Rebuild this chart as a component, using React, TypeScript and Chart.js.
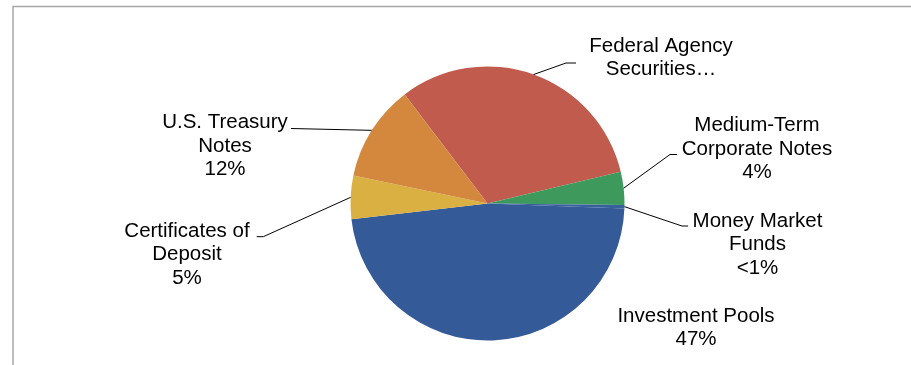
import React, { useEffect, useRef } from "react";
import { Chart, registerables } from "chart.js";

Chart.register(...registerables);

const categories = [
  "Federal Agency Securities",
  "Medium-Term Corporate Notes",
  "Money Market Funds",
  "Investment Pools",
  "Certificates of Deposit",
  "U.S. Treasury Notes",
];
const values = [31.6, 3.9, 0.4, 47.6, 5.1, 11.4];
const labelTexts = [
  ["Federal Agency", "Securities…"],
  ["Medium-Term", "Corporate Notes", "4%"],
  ["Money Market", "Funds", "<1%"],
  ["Investment Pools", "47%"],
  ["Certificates of", "Deposit", "5%"],
  ["U.S. Treasury", "Notes", "12%"],
];
const colors = ["#c05b4e", "#3e9a5c", "#37609e", "#345a98", "#dbb043", "#d4883d"];

// label layout: text centre x, first baseline y, leader elbow and end (null = no leader)
const labelLayout = [
  { x: 661, y: 51.7, elbow: [566, 63], end: [576, 63] },
  { x: 757, y: 131, elbow: [670, 154.5], end: [677, 154.5] },
  { x: 757.5, y: 226.7, elbow: [682, 226], end: [688, 226] },
  { x: 696, y: 321.7, elbow: null, end: null },
  { x: 187, y: 236.7, elbow: [263.3, 236.7], end: [256.7, 236.7] },
  { x: 225, y: 128.3, elbow: [291, 128.5], end: [291, 128.5] },
];
const LINE_H = 23.5;
const FONT = '20.5px "Liberation Sans", Arial, sans-serif';

const framePlugin = {
  id: "frame",
  beforeDraw(chart: any) {
    const ctx = chart.ctx;
    ctx.save();
    ctx.strokeStyle = "#a8a8a8";
    ctx.lineWidth = 1.5;
    ctx.beginPath();
    ctx.moveTo(13, chart.height);
    ctx.lineTo(13, 6.5);
    ctx.lineTo(chart.width, 6.5);
    ctx.stroke();
    ctx.restore();
  },
};

const labelPlugin = {
  id: "pieLabels",
  afterDatasetsDraw(chart: any) {
    const ctx = chart.ctx;
    const meta = chart.getDatasetMeta(0);
    ctx.save();
    meta.data.forEach((arc: any, i: number) => {
      const lay = labelLayout[i];
      const lines = labelTexts[i];
      if (lay.elbow && lay.end) {
        const mid = (arc.startAngle + arc.endAngle) / 2;
        const sx = arc.x + Math.cos(mid) * arc.outerRadius;
        const sy = arc.y + Math.sin(mid) * arc.outerRadius;
        ctx.strokeStyle = "#000";
        ctx.lineWidth = 1;
        ctx.beginPath();
        ctx.moveTo(sx, sy);
        ctx.lineTo(lay.elbow[0], lay.elbow[1]);
        ctx.lineTo(lay.end[0], lay.end[1]);
        ctx.stroke();
      }
      ctx.fillStyle = "#000";
      ctx.font = FONT;
      ctx.textAlign = "center";
      ctx.textBaseline = "alphabetic";
      lines.forEach((t: string, j: number) => {
        ctx.fillText(t, lay.x, lay.y + j * LINE_H);
      });
    });
    ctx.restore();
  },
};

export default function App() {
  const ref = useRef<HTMLCanvasElement | null>(null);
  useEffect(() => {
    if (!ref.current) return;
    const chart = new Chart(ref.current, {
      type: "pie",
      data: {
        labels: categories,
        datasets: [
          {
            data: values,
            backgroundColor: colors,
            borderWidth: 0,
          },
        ],
      },
      options: {
        animation: false,
        responsive: false,
        rotation: -37.2,
        layout: { padding: { left: 350.5, right: 286.5, top: 66.5, bottom: 24.5 } },
        plugins: { legend: { display: false }, tooltip: { enabled: false } },
      },
      plugins: [framePlugin, labelPlugin],
    });
    return () => chart.destroy();
  }, []);
  return (
    <div style={{ position: "fixed", left: 0, top: 0, width: 911, height: 365, background: "#fff" }}>
      <canvas ref={ref} width={911} height={365} style={{ width: 911, height: 365, display: "block" }} />
    </div>
  );
}
